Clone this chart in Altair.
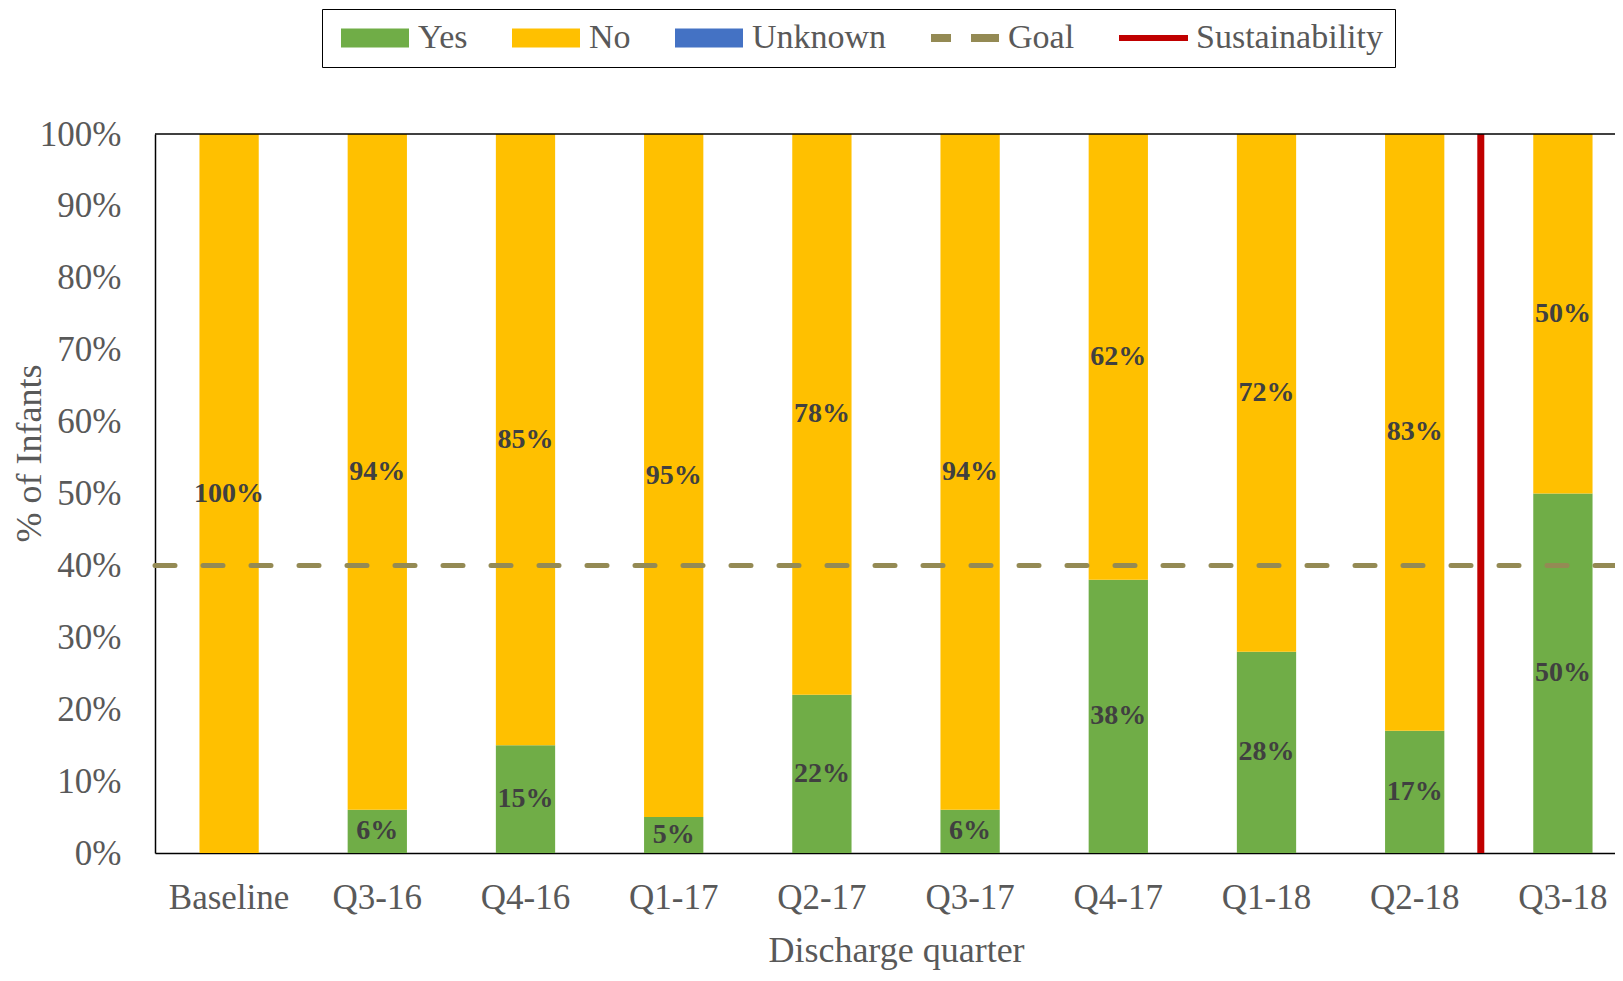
import altair as alt
import pandas as pd

quarters = ["Baseline", "Q3-16", "Q4-16", "Q1-17", "Q2-17", "Q3-17", "Q4-17", "Q1-18", "Q2-18", "Q3-18"]
yes_pct = [0, 6, 15, 5, 22, 6, 38, 28, 17, 50]
no_pct = [100, 94, 85, 95, 78, 94, 62, 72, 83, 50]
goal_pct = [40]
sustain_quarter = ["Q3-18"]
series_names = ["Yes", "No", "Unknown", "Goal", "Sustainability"]
series_colors = ["#70AD47", "#FFC000", "#4472C4", "#948A54", "#C00000"]
series_shapes = [
    "M-1,-0.95H5.8V0.95H-1Z",
    "M-1,-0.95H5.8V0.95H-1Z",
    "M-1,-0.95H5.8V0.95H-1Z",
    "M-1,-0.4H1.0V0.4H-1Z M3.0,-0.4H5.8V0.4H3.0Z",
    "M-1,-0.3H5.9V0.3H-1Z",
]

rows = []
for q, y, n in zip(quarters, yes_pct, no_pct):
    rows.append({"quarter": q, "series": "Yes", "pct": y, "order": 0})
    rows.append({"quarter": q, "series": "No", "pct": n, "order": 1})
bars_df = pd.DataFrame(rows)
legend_df = pd.DataFrame({"series": series_names})
goal_df = pd.DataFrame({"goal": goal_pct})
sustain_df = pd.DataFrame({"quarter": sustain_quarter})

FONT = "Liberation Serif"
GRAY = "#595959"

x_scale = alt.Scale(domain=quarters, range=[0, 1482], paddingInner=0, paddingOuter=0)
y_scale = alt.Scale(domain=[0, 100], nice=False)
color_scale = alt.Scale(domain=series_names, range=series_colors)
shape_scale = alt.Scale(domain=series_names, range=series_shapes)

legend_def = alt.Legend(
    title=None,
    orient="none",
    legendX=167,
    legendY=-125,
    direction="horizontal",
    columns=5,
    symbolSize=400,
    symbolStrokeWidth=0,
    symbolOpacity=1,
    labelFont=FONT,
    labelFontSize=34,
    labelColor=GRAY,
    labelOffset=50,
    labelLimit=400,
    columnPadding=37,
    padding=12,
    strokeColor="#000000",
)

x_enc = alt.X(
    "quarter:N",
    scale=x_scale,
    sort=quarters,
    axis=alt.Axis(
        title="Discharge quarter",
        labelAngle=0,
        ticks=False,
        tickSize=0,
        domainColor="#000000",
        domainWidth=1.5,
        labelFont=FONT,
        labelFontSize=35,
        labelColor=GRAY,
        labelPadding=27,
        titleFont=FONT,
        titleFontSize=36,
        titleFontWeight="normal",
        titleColor=GRAY,
        titlePadding=18,
    ),
)

y_axis = alt.Axis(
    title="% of Infants",
    values=list(range(0, 101, 10)),
    labelExpr="datum.value + '%'",
    grid=False,
    ticks=False,
    tickSize=0,
    domainColor="#000000",
    domainWidth=1.5,
    labelFont=FONT,
    labelFontSize=35,
    labelColor=GRAY,
    labelPadding=34,
    titleFont=FONT,
    titleFontSize=36,
    titleFontWeight="normal",
    titleColor=GRAY,
    titleX=-126,
    titleY=319,
    titleAngle=270,
    titleAlign="center",
    titleBaseline="middle",
)

bars = alt.Chart(bars_df).mark_bar(width=alt.RelativeBandSize(0.4)).encode(
    x=x_enc,
    y=alt.Y("pct:Q", stack="zero", scale=y_scale, axis=y_axis),
    color=alt.Color("series:N", scale=color_scale, legend=legend_def),
    order=alt.Order("order:Q"),
)

labels = (
    alt.Chart(bars_df)
    .transform_filter("datum.pct > 0")
    .transform_stack(stack="pct", groupby=["quarter"], as_=["y0", "y1"], sort=[alt.SortField("order")])
    .transform_calculate(mid="(datum.y0 + datum.y1) / 2", lab="datum.pct + '%'")
    .mark_text(font=FONT, fontSize=28, fontWeight="bold", color="#404040", baseline="middle")
    .encode(
        x=alt.X("quarter:N", scale=x_scale, sort=quarters),
        y=alt.Y("mid:Q", scale=y_scale),
        text="lab:N",
    )
)

goal = alt.Chart(goal_df).mark_rule(
    color="#948A54", strokeWidth=5, strokeDash=[20, 28], strokeCap="round"
).encode(y=alt.Y("goal:Q", scale=y_scale))

top_border = alt.Chart(goal_df).mark_rule(color="#000000", strokeWidth=1.5).encode(
    y=alt.datum(100)
)

sustain = alt.Chart(sustain_df).mark_rule(color="#C00000", strokeWidth=7, xOffset=-8).encode(
    x=alt.X("quarter:N", scale=x_scale, sort=quarters, bandPosition=0),
    y=alt.datum(0),
    y2=alt.datum(100),
)

legend_pts = alt.Chart(legend_df).mark_point(filled=True, opacity=0).encode(
    color=alt.Color("series:N", scale=color_scale, legend=legend_def),
    shape=alt.Shape("series:N", scale=shape_scale, legend=legend_def),
)

chart = (
    alt.layer(bars, labels, goal, sustain, top_border, legend_pts)
    .properties(
        width=1460,
        height=719,
        autosize=alt.AutoSizeParams(type="none"),
        padding={"left": 147, "top": 126, "right": 0, "bottom": 120},
    )
    .configure_view(strokeWidth=0)
)

chart.save("out.html", embed_options={"renderer": "svg", "actions": False})
